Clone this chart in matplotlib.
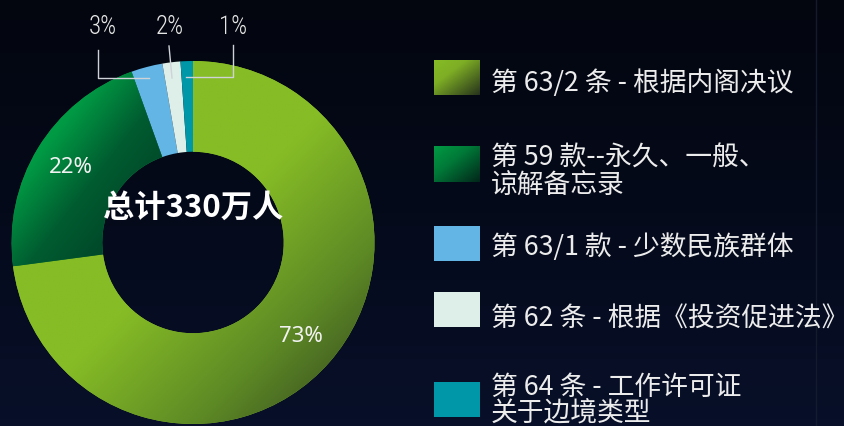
# donut chart: 330万人 breakdown by article
import numpy as np
import matplotlib
matplotlib.use('Agg')
import matplotlib.pyplot as plt
from matplotlib.colors import LinearSegmentedColormap
from matplotlib.patches import Rectangle

plt.rcParams['font.family'] = ['Noto Sans CJK SC', 'DejaVu Sans']

# data
categories = ['第 63/2 条 - 根据内阁决议',
              '第 59 款--永久、一般、\n谅解备忘录',
              '第 63/1 款 - 少数民族群体',
              '第 62 条 - 根据《投资促进法》',
              '第 64 条 - 工作许可证\n关于边境类型']
shares = [72.9, 21.6, 2.8, 1.6, 1.1]
total_label = '总计330万人'
colors = ['#86BC25', '#009A44', '#62B5E5', '#DDEFE8', '#0097A9']

# gradient stops for the two big slices (top-left -> bottom-right)
grad_slices = {
    0: [(0.0, '#86BC25'), (0.5, '#86BC25'), (0.75, '#5E8A25'), (1.0, '#2E401F')],
    1: [(0.0, '#009A44'), (0.3, '#009A44'), (0.55, '#005C30'), (1.0, '#003322')],
}
grad_swatch = {
    0: [(0.0, '#86BC25'), (0.35, '#7EAE25'), (1.0, '#26321C')],
    1: [(0.0, '#009A44'), (0.4, '#007A38'), (1.0, '#02261A')],
}

# layout in pixels
W, H = 845, 426
cx, cy, R = 193, 242.5, 181.5


def px(x, y):
    '''pixel position -> data coords'''
    return ((x - cx) / R, (cy - y) / R)


def diag_gradient(stops, n=200):
    cmap = LinearSegmentedColormap.from_list('g', stops)
    u = np.linspace(0, 1, n)
    xx, yy = np.meshgrid(u, u)
    # rows from top to bottom (origin upper)
    t = (xx + yy) / 2
    return cmap(t)


fig = plt.figure(figsize=(8.45, 4.26), dpi=100)
fig.patch.set_facecolor('#050a1a')
ax = fig.add_axes([0, 0, 1, 1])

x0, y0 = px(0, H)
x1, y1 = px(W, 0)

wedges, texts, autotexts = ax.pie(
    shares, colors=colors, startangle=90, counterclock=False, radius=1,
    wedgeprops=dict(width=0.5, linewidth=0), autopct='%.0f%%',
    pctdistance=0.79, frame=False,
    textprops=dict(color='#f2f2f2', fontsize=16, family=['Noto Sans', 'DejaVu Sans']))

ax.set_aspect('auto')
ax.set_xlim(x0, x1)
ax.set_ylim(y0, y1)
ax.axis('off')

# background
bg_cmap = LinearSegmentedColormap.from_list('bg', ['#03060f', '#050a1b', '#081029'])
bg = bg_cmap(np.linspace(0, 1, 64))[:, None, :]
ax.imshow(bg, extent=(x0, x1, y0, y1), origin='upper', aspect='auto', zorder=-10)
ax.plot([px(816, 0)[0]] * 2, [y0, y1], color='#151b2e', lw=1, zorder=-5)

# gradient fills for the big slices
for i, stops in grad_slices.items():
    w = wedges[i]
    bb = w.get_path().get_extents()
    im = ax.imshow(diag_gradient(stops), extent=(bb.x0, bb.x1, bb.y0, bb.y1),
                   origin='upper', aspect='auto', zorder=w.get_zorder() + 0.1)
    im.set_clip_path(w)

ax.set_xlim(x0, x1)
ax.set_ylim(y0, y1)

# small slices: labels outside with leader lines
small_pos = [(103, 27.5), (170, 27), (233.5, 27)]
leaders = [
    [(98, 50), (98, 78), (149, 78)],
    [(169, 46), (172, 78)],
    [(233, 45), (233, 77), (186, 77)],
]
for k, i in enumerate([2, 3, 4]):
    t = autotexts[i]
    t.set_position(px(*small_pos[k]))
    t.set_family(['Roboto Condensed', 'Archivo Narrow', 'DejaVu Sans'])
    t.set_fontweight('light')
    t.set_fontsize(18)
    t.set_color('#e6e6e6')
    pts = np.array([px(*p) for p in leaders[k]])
    ax.plot(pts[:, 0], pts[:, 1], color='#cfd2d6', lw=1, zorder=5)

for i in [0, 1]:
    autotexts[i].set_zorder(6)

# centre label
ax.text(*px(193, 208), total_label, ha='center', va='center', color='white',
        fontsize=22.5, fontweight='bold', zorder=7)

# legend
sw_top = [60, 147, 226, 292, 382]
txt_y = [83, 172, 247, 318, 401]
sw_w, sw_h = 46, 35
for i, label in enumerate(categories):
    lx, ly = px(434, sw_top[i] + sw_h)
    if i in grad_swatch:
        ax.imshow(diag_gradient(grad_swatch[i]),
                  extent=(lx, lx + sw_w / R, ly, ly + sw_h / R),
                  origin='upper', aspect='auto', zorder=3)
    else:
        ax.add_patch(Rectangle((lx, ly), sw_w / R, sw_h / R, facecolor=colors[i],
                               linewidth=0, zorder=3))
    ax.text(*px(491, txt_y[i]), label, ha='left', va='center', color='#ececec',
            fontsize=19.3, fontweight='light', linespacing=1.0, zorder=7)

ax.set_xlim(x0, x1)
ax.set_ylim(y0, y1)

fig.savefig('out.png', dpi=100, facecolor=fig.get_facecolor())
